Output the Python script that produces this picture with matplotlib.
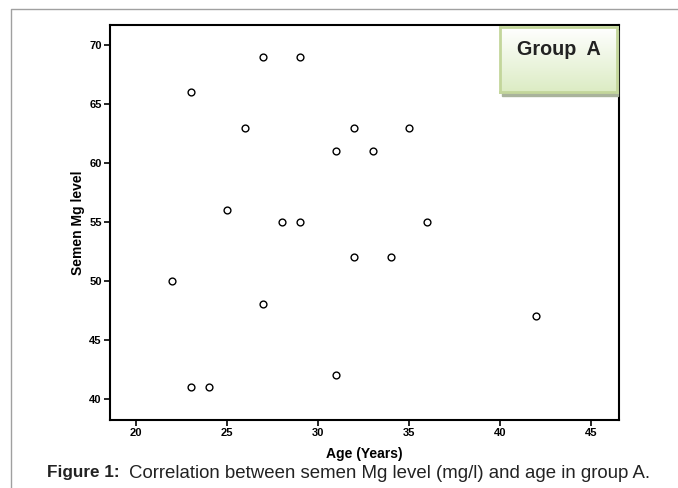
"""Scatter of semen Mg level against age for group A."""

import matplotlib.pyplot as plt
import numpy as np
from matplotlib.colors import LinearSegmentedColormap
from matplotlib.lines import Line2D
from matplotlib.patches import Rectangle

age = [23, 27, 29, 26, 32, 35, 31, 33, 25, 28, 29, 36, 32, 34, 22, 27, 42, 31, 23, 24]
mg_level = [66, 69, 69, 63, 63, 63, 61, 61, 56, 55, 55, 55, 52, 52, 50, 48, 47, 42, 41, 41]

x_ticks = [20, 25, 30, 35, 40, 45]
y_ticks = [40, 45, 50, 55, 60, 65, 70]

W, H = 678, 488
plt.rcParams["font.family"] = ["Liberation Sans", "DejaVu Sans"]
fig = plt.figure(figsize=(W / 100, H / 100), dpi=100)


def px(x0, y0, x1, y1):
    """Pixel box (top-left origin) to figure fraction rect."""
    return [x0 / W, 1 - y1 / H, (x1 - x0) / W, (y1 - y0) / H]


# thin gray frame around the figure panel
fig.add_artist(Line2D([11 / W, 11 / W, 1], [0, 1 - 9 / H, 1 - 9 / H],
                      transform=fig.transFigure, color="#a0a0a0", lw=1))

ax = fig.add_axes(px(110, 25, 619, 420))
ax.scatter(age, mg_level, s=24, facecolors="white", edgecolors="black",
           linewidths=1, zorder=3)
ax.set_xlim(18.57, 46.54)
ax.set_ylim(38.2, 71.7)
ax.set_xticks(x_ticks)
ax.set_yticks(y_ticks)
ax.tick_params(direction="out", length=4, width=1.2, labelsize=8, pad=2)
for lab in ax.get_xticklabels() + ax.get_yticklabels():
    lab.set_fontweight("bold")
for sp in ax.spines.values():
    sp.set_linewidth(1.5)
ax.set_xlabel("Age (Years)", fontsize=10, fontweight="bold")
ax.set_ylabel("Semen Mg level", fontsize=10, fontweight="bold")
ax.xaxis.set_label_coords(0.5, -0.068)
ax.yaxis.set_label_coords(-0.05, 0.5)

# "Group A" label box with gradient fill and drop shadow
fig.add_artist(Rectangle((502 / W, 1 - 96 / H), 116 / W, 66 / H,
                         transform=fig.transFigure, color="#a9b39c", zorder=4))
box = fig.add_axes(px(500, 27, 617, 92), zorder=5)
grad = np.linspace(0, 1, 100).reshape(-1, 1)
box.imshow(grad, aspect="auto", extent=[0, 1, 0, 1], origin="upper",
           cmap=LinearSegmentedColormap.from_list("g", ["#ffffff", "#dcecc4"]))
box.set_xticks([])
box.set_yticks([])
for sp in box.spines.values():
    sp.set_color("#c3d69b")
    sp.set_linewidth(2)
box.text(0.5, 0.66, "Group  A", ha="center", va="center", fontsize=14.2,
         fontweight="bold", color="#222222", transform=box.transAxes)

fig.text(47 / W, 1 - 473 / H, "Figure 1:", fontsize=12.3, fontweight="bold",
         color="#222222", va="center")
fig.text(129 / W, 1 - 473 / H,
         "Correlation between semen Mg level (mg/l) and age in group A.",
         fontsize=13.4, color="#222222", va="center")

fig.savefig("out.png", dpi=100)
